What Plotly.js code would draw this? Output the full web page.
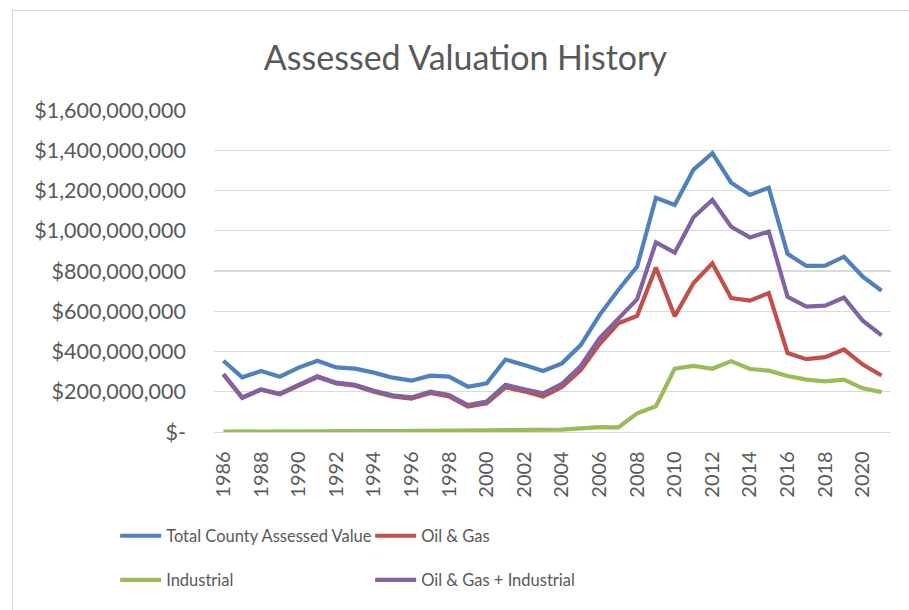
<!DOCTYPE html>
<html>
<head>
<meta charset="utf-8">
<script src="https://cdn.plot.ly/plotly-3.0.1.min.js"></script>
<style>
html,body{margin:0;padding:0;background:#fff;}
#frame{position:absolute;left:12px;top:10px;width:920px;height:620px;border:1px solid #d9d9d9;box-sizing:border-box;}
#chart{position:absolute;left:0;top:0;width:909px;height:610px;}
</style>
</head>
<body>
<div id="frame"></div>
<div id="chart"></div>
<script>
const years = [1986,1987,1988,1989,1990,1991,1992,1993,1994,1995,1996,1997,1998,1999,2000,2001,2002,2003,2004,2005,2006,2007,2008,2009,2010,2011,2012,2013,2014,2015,2016,2017,2018,2019,2020,2021];
// values in millions of dollars
const totalCounty = [354,272,303,275,320,354,321,315,295,270,255,280,275,225,242,360,333,303,341,432,581,706,822,1164,1128,1304,1386,1239,1178,1214,885,825,827,871,772,702];
const oilGas = [286,169,210,188,231,273,241,230,200,177,166,194,177,126,143,222,202,176,224,308,437,540,577,817,575,740,838,666,653,690,392,362,372,410,335,281];
const industrial = [2,3,2,2,3,4,4,4,5,5,6,6,7,8,8,7,8,10,12,18,24,23,93,128,315,328,314,352,313,305,278,260,252,260,217,198];
const oilGasIndustrial = [288,172,212,190,234,277,245,234,205,182,172,200,184,134,151,234,212,192,239,328,466,565,660,942,891,1067,1153,1020,967,996,672,623,628,668,553,480];
const seriesNames = ["Total County Assessed Value","Oil & Gas","Industrial","Oil & Gas + Industrial"];
const yTickVals = [0,200000000,400000000,600000000,800000000,1000000000,1200000000,1400000000,1600000000];
const yTickText = ["$-","$200,000,000","$400,000,000","$600,000,000","$800,000,000","$1,000,000,000","$1,200,000,000","$1,400,000,000","$1,600,000,000"];
const xTickVals = [1986,1988,1990,1992,1994,1996,1998,2000,2002,2004,2006,2008,2010,2012,2014,2016,2018,2020];

const M = v => v.map(x => x*1e6);
const FONT = "Lato, 'Open Sans', sans-serif";
const colors = ["#4F81BD","#C0504D","#9BBB59","#8064A2"];
const data = [
  {x:years, y:M(totalCounty), name:seriesNames[0], legend:"legend"},
  {x:years, y:M(oilGas), name:seriesNames[1], legend:"legend"},
  {x:years, y:M(industrial), name:seriesNames[2], legend:"legend2"},
  {x:years, y:M(oilGasIndustrial), name:seriesNames[3], legend:"legend2"}
].map((t,i)=>Object.assign(t,{type:"scatter",mode:"lines",line:{color:colors[i],width:4.2},hoverinfo:"skip"}));

const legendCommon = {orientation:"h", entrywidth:199, entrywidthmode:"pixels", xanchor:"left", yanchor:"middle",
  font:{family:FONT,size:16.5,color:"#595959"}, bgcolor:"rgba(0,0,0,0)", itemwidth:41, tracegroupgap:0};

const layout = {
  width:909, height:610,
  margin:{l:214, r:18, t:110, b:178},
  paper_bgcolor:"rgba(0,0,0,0)", plot_bgcolor:"#fff",
  title:{text:"Assessed Valuation History", font:{family:FONT,size:34,color:"#595959"}, x:0.512, xanchor:"center", y:0.905, yanchor:"middle"},
  xaxis:{range:[1985.5,2021.5], tickvals:xTickVals, ticktext:xTickVals.map(String), tickangle:-90, ticks:"", showgrid:false,
    zeroline:false, showline:true, linecolor:"#d9d9d9", linewidth:1.3, ticklabelstandoff:10,
    tickfont:{family:FONT,size:20,color:"#595959"}, fixedrange:true},
  yaxis:{range:[0,1.6e9], tickvals:yTickVals, ticktext:yTickText, showgrid:true, gridcolor:"#d9d9d9", gridwidth:1.3,
    zeroline:false, showline:false, ticks:"", ticklabelstandoff:27,
    tickfont:{family:FONT,size:21.5,color:"#595959"}, fixedrange:true},
  legend:Object.assign({x:-0.146, y:-0.323}, legendCommon),
  legend2:Object.assign({x:-0.146, y:-0.46}, legendCommon),
  showlegend:true
};
Plotly.newPlot("chart", data, layout, {displayModeBar:false, staticPlot:true});
</script>
</body>
</html>
